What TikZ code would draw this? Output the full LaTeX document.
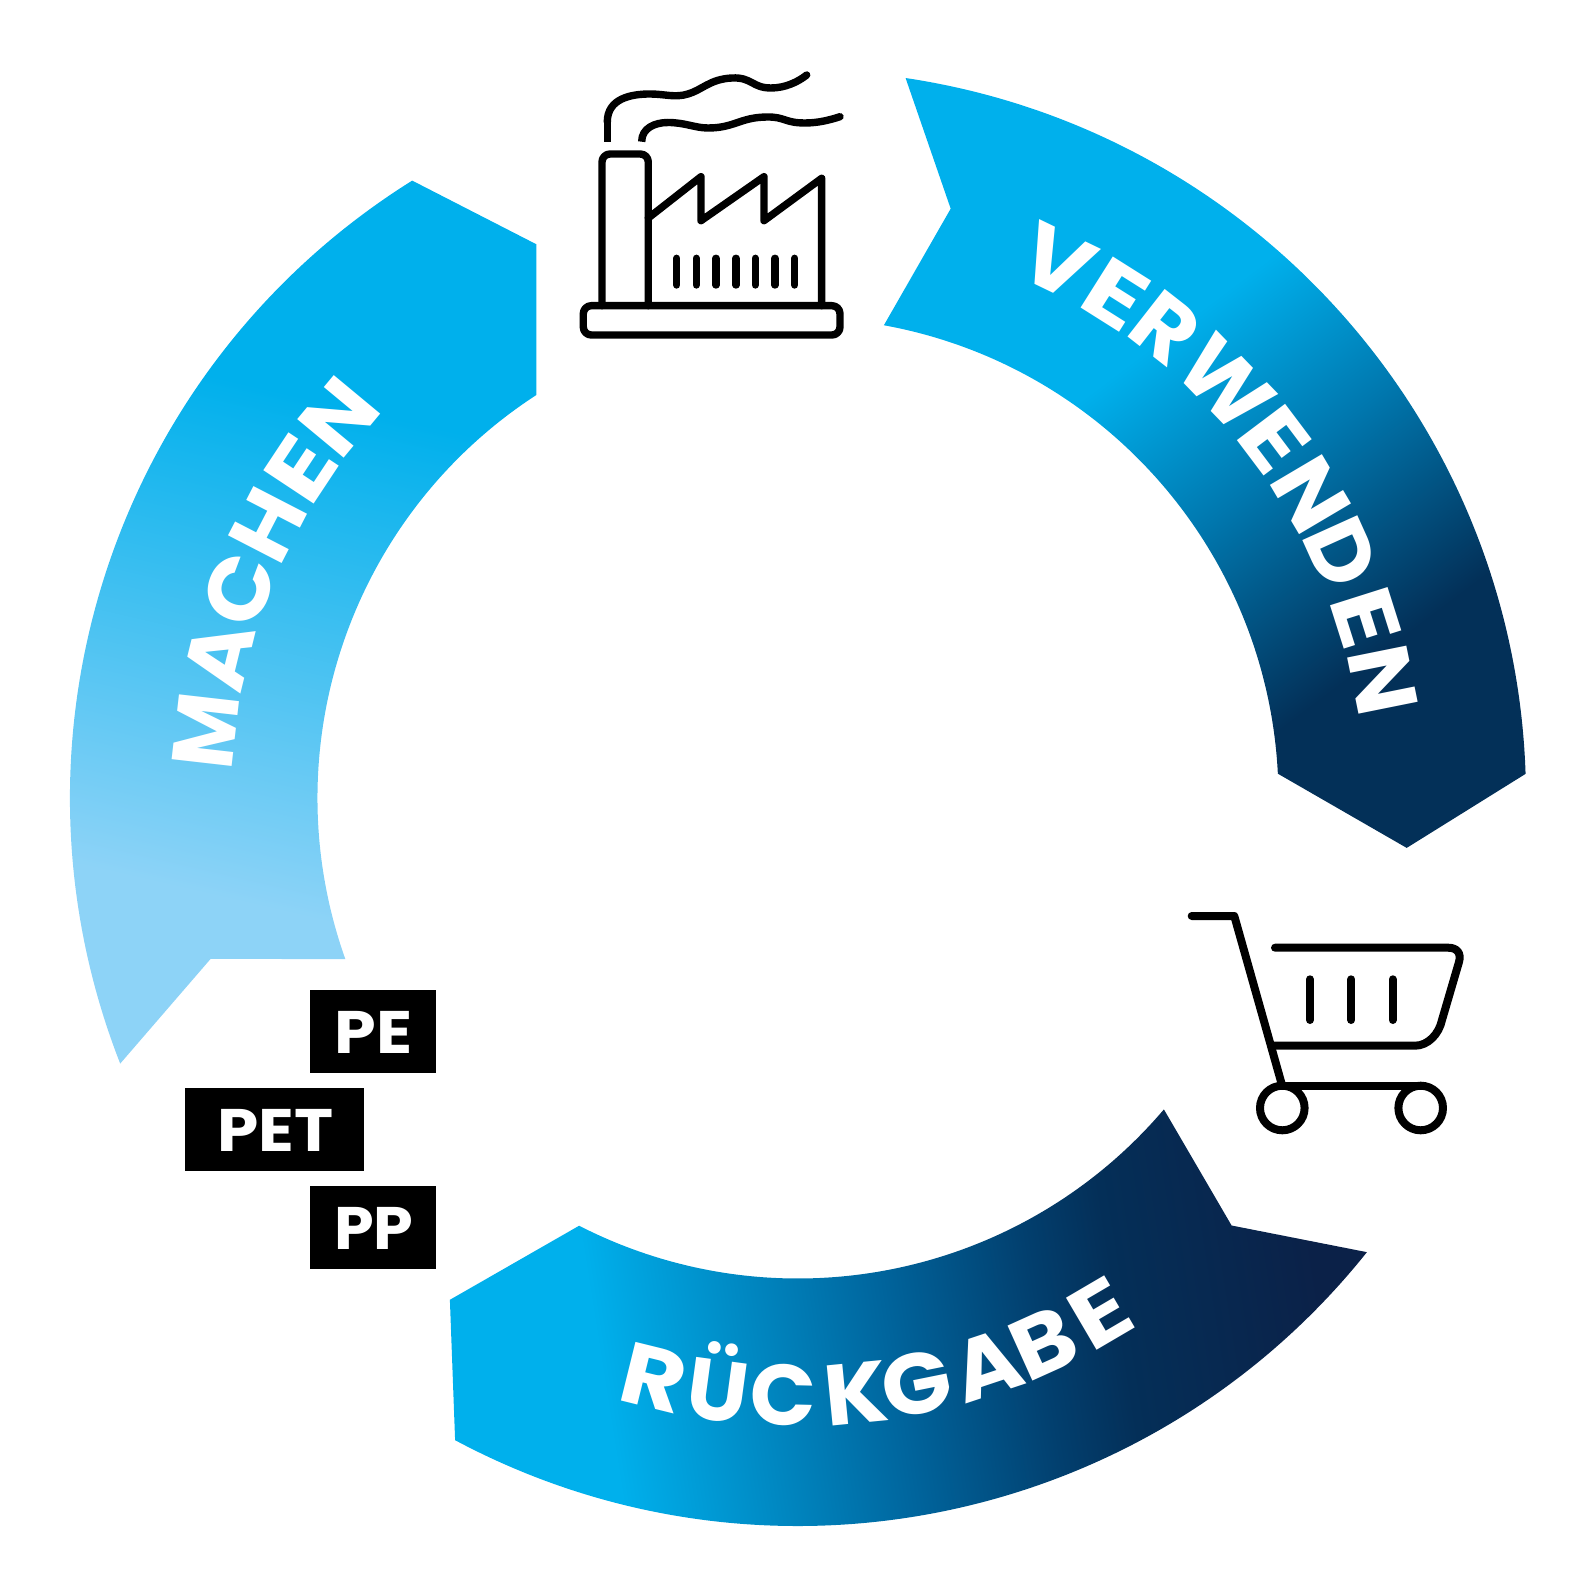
\documentclass[tikz,border=0pt]{standalone}
\usepackage{fontspec}
\setmainfont{Poppins}
\newfontfamily\heavy{Poppins}[FakeStretch=1.06,UprightFont=* Bold]
\definecolor{cy}{HTML}{00B0EC}
\definecolor{lb}{HTML}{8DD3F7}
\definecolor{nv}{HTML}{033058}
\definecolor{nd}{HTML}{0B2148}
\definecolor{mv}{HTML}{0077AE}
\definecolor{ra}{HTML}{00649C}
\definecolor{rb}{HTML}{023F6E}
\definecolor{rc}{HTML}{042F58}
\pgfdeclarehorizontalshading{machenS}{100bp}{color(0bp)=(cy);color(43.5bp)=(cy);color(56.25bp)=(lb);color(100bp)=(lb)}
\pgfdeclarehorizontalshading{verwS}{100bp}{color(0bp)=(cy);color(46.6bp)=(cy);color(51bp)=(mv);color(56.2bp)=(nv);color(100bp)=(nv)}
\pgfdeclarehorizontalshading{rueckS}{100bp}{color(0bp)=(cy);color(43.5bp)=(cy);color(50.8bp)=(ra);color(54.5bp)=(rb);color(56.5bp)=(rc);color(61.6bp)=(nd);color(100bp)=(nd)}
\tikzset{
  x=0.5pt,y=0.5pt,
  icon/.style={line width=3.7pt,line cap=round,line join=round,draw=black},
  flat/.style={line width=3.7pt,line cap=butt,line join=round,draw=black},
  cartline/.style={line width=4pt,line cap=round,line join=round,draw=black},
  wheel/.style={cartline,circle,inner sep=0pt,outer sep=0pt,minimum size=22.3pt},
  tagbox/.style={fill=black,inner sep=0pt,outer sep=0pt,minimum height=41.65pt},
  tagtext/.style={text=white,inner sep=0pt,font=\fontsize{30}{30}\selectfont\heavy},
  letter/.style={text=white,inner sep=0pt,anchor=base,font=\fontsize{43}{43}\selectfont\heavy}
}
\begin{document}
\begin{tikzpicture}
\useasboundingbox (-798,-798) rectangle (798,798);
% MACHEN arrow
\begin{scope}
\clip (122:728) arc[start angle=122,end angle=201.4,radius=364pt] -- (-587.3,-160.8) -- (199.6:480.5) arc[start angle=199.6,end angle=123,radius=240.25pt] -- (-261.6,553.7) -- cycle;
\shade[shading=machenS,shading angle=-103] (-1493,-864) rectangle (507,1136);
\end{scope}
% VERWENDEN arrow
\begin{scope}
\clip (81.5:728) arc[start angle=81.5,end angle=1.9,radius=364pt] -- (608.7,-49.9) -- (2.9:480.5) arc[start angle=2.9,end angle=79.7,radius=240.25pt] -- (152.7,589.3) -- cycle;
\shade[shading=verwS,shading angle=-53] (-598,-682) rectangle (1402,1318);
\end{scope}
% RUECKGABE arrow
\begin{scope}
\clip (-348.1,-501.8) -- (241.9:728) arc[start angle=241.9,end angle=321.4,radius=364pt] -- (433.6,-427.5) -- (-40.4:480.5) arc[start angle=-40.4,end angle=-117.1,radius=240.25pt] -- cycle;
\shade[shading=rueckS,shading angle=9] (-933,-1576) rectangle (1067,424);
\end{scope}
% Ring texts, letter by letter
\foreach \ch/\ang/\xs [count=\i] in {V/64.2/1.06,E/57.75/1.16,R/52/1.0,W/44.1/0.98,E/37/1.13,N/30.6/1.0,D/24.3/0.98,E/17.6/1.16,N/11.4/1.0}
  \node[letter,rotate=\ang-90] (vw\i) at (\ang:566) {\scalebox{\xs}[1]{\ch}};
\foreach \ch/\ang/\xs [count=\i] in {M/173.5/0.9,A/166.2/1.0,C/159.5/1.0,H/152.7/1.0,E/146.5/1.16,N/140.3/1.0}
  \node[letter,rotate=\ang-90] (ma\i) at (\ang:566) {\scalebox{\xs}[1]{\ch}};
\foreach \ch/\ang/\xs [count=\i] in {R/256.1/1.08,Ü/262.3/0.95,C/268.6/0.95,K/275.6/1.0,G/281.4/1.0,A/288.4/1.0,B/294.3/1.04,E/300.4/1.13}
  \node[letter,rotate=\ang+90] (rg\i) at (\ang:628) {\scalebox{\xs}[1]{\ch}};
% icons and tags in pixel coordinates
\begin{scope}[shift={(-798,798)},y=-0.5pt]
% tags
\node[tagbox,minimum width=62.7pt] (pe) at (373,1031.35) {};
\node[tagbox,minimum width=89.35pt] (pet) at (274.65,1129.35) {};
\node[tagbox,minimum width=62.7pt] (pp) at (373,1227.35) {};
\node[tagtext] (pelabel) at (373.3,1032.5) {\scalebox{1.05}[1]{PE}};
\node[tagtext] (petlabel) at (275.7,1130.5) {\scalebox{1.04}[1]{PET}};
\node[tagtext] (pplabel) at (374,1228.5) {PP};
% factory
\draw[icon,rounded corners=4pt] (602,305.7) -- (602,154) -- (648.3,154) -- (648.3,305.7);
\draw[icon,rounded corners=4pt] (583.3,305.7) rectangle (840,335);
\draw[icon] (648.3,218) -- (701,176.7) -- (701,220.7) -- (764,176.7) -- (764,220.7) -- (821.7,178.3) -- (821.7,305.7);
\foreach \wx in {676.7,696.3,716,736,755.3,775,794.7}
  \draw[icon] (\wx,258.3) -- (\wx,285);
\draw[flat] (607.3,141.7) -- (607.3,122);
\draw[icon] (607.3,122) .. controls (607.3,98) and (632,94) .. (650,94)
  .. controls (665,94) and (675,98) .. (688,94)
  .. controls (702,90) and (710,79) .. (732,78)
  .. controls (752,77) and (752,88) .. (771,88)
  .. controls (785,88) and (798,82) .. (806.7,75);
\draw[flat] (641.7,141.7) .. controls (641.7,128) and (655,122.5) .. (668,122.5);
\draw[icon] (668,122.5) .. controls (685,122.5) and (695,128) .. (708,128)
  .. controls (735,128) and (740,117) .. (768,117)
  .. controls (785,117) and (785,123) .. (805,123)
  .. controls (818,123) and (830,120) .. (840,116.7);
% cart
\draw[cartline] (1191.7,916) -- (1234.3,916) -- (1281.7,1084);
\draw[cartline] (1275,947.7) -- (1448,947.7) .. controls (1457,947.7) and (1461.5,953) .. (1459,962)
  -- (1442,1020) .. controls (1439,1034) and (1428,1045.7) .. (1415,1045.7) -- (1273.3,1045.7);
\foreach \bx in {1310,1351.3,1392.7}
  \draw[cartline] (\bx,979.3) -- (\bx,1020);
\node[wheel] (wa) at (1282.3,1108) {};
\node[wheel] (wb) at (1420.7,1108) {};
\draw[cartline] (wa.north) -- (wb.north);
\end{scope}
\end{tikzpicture}
\end{document}
